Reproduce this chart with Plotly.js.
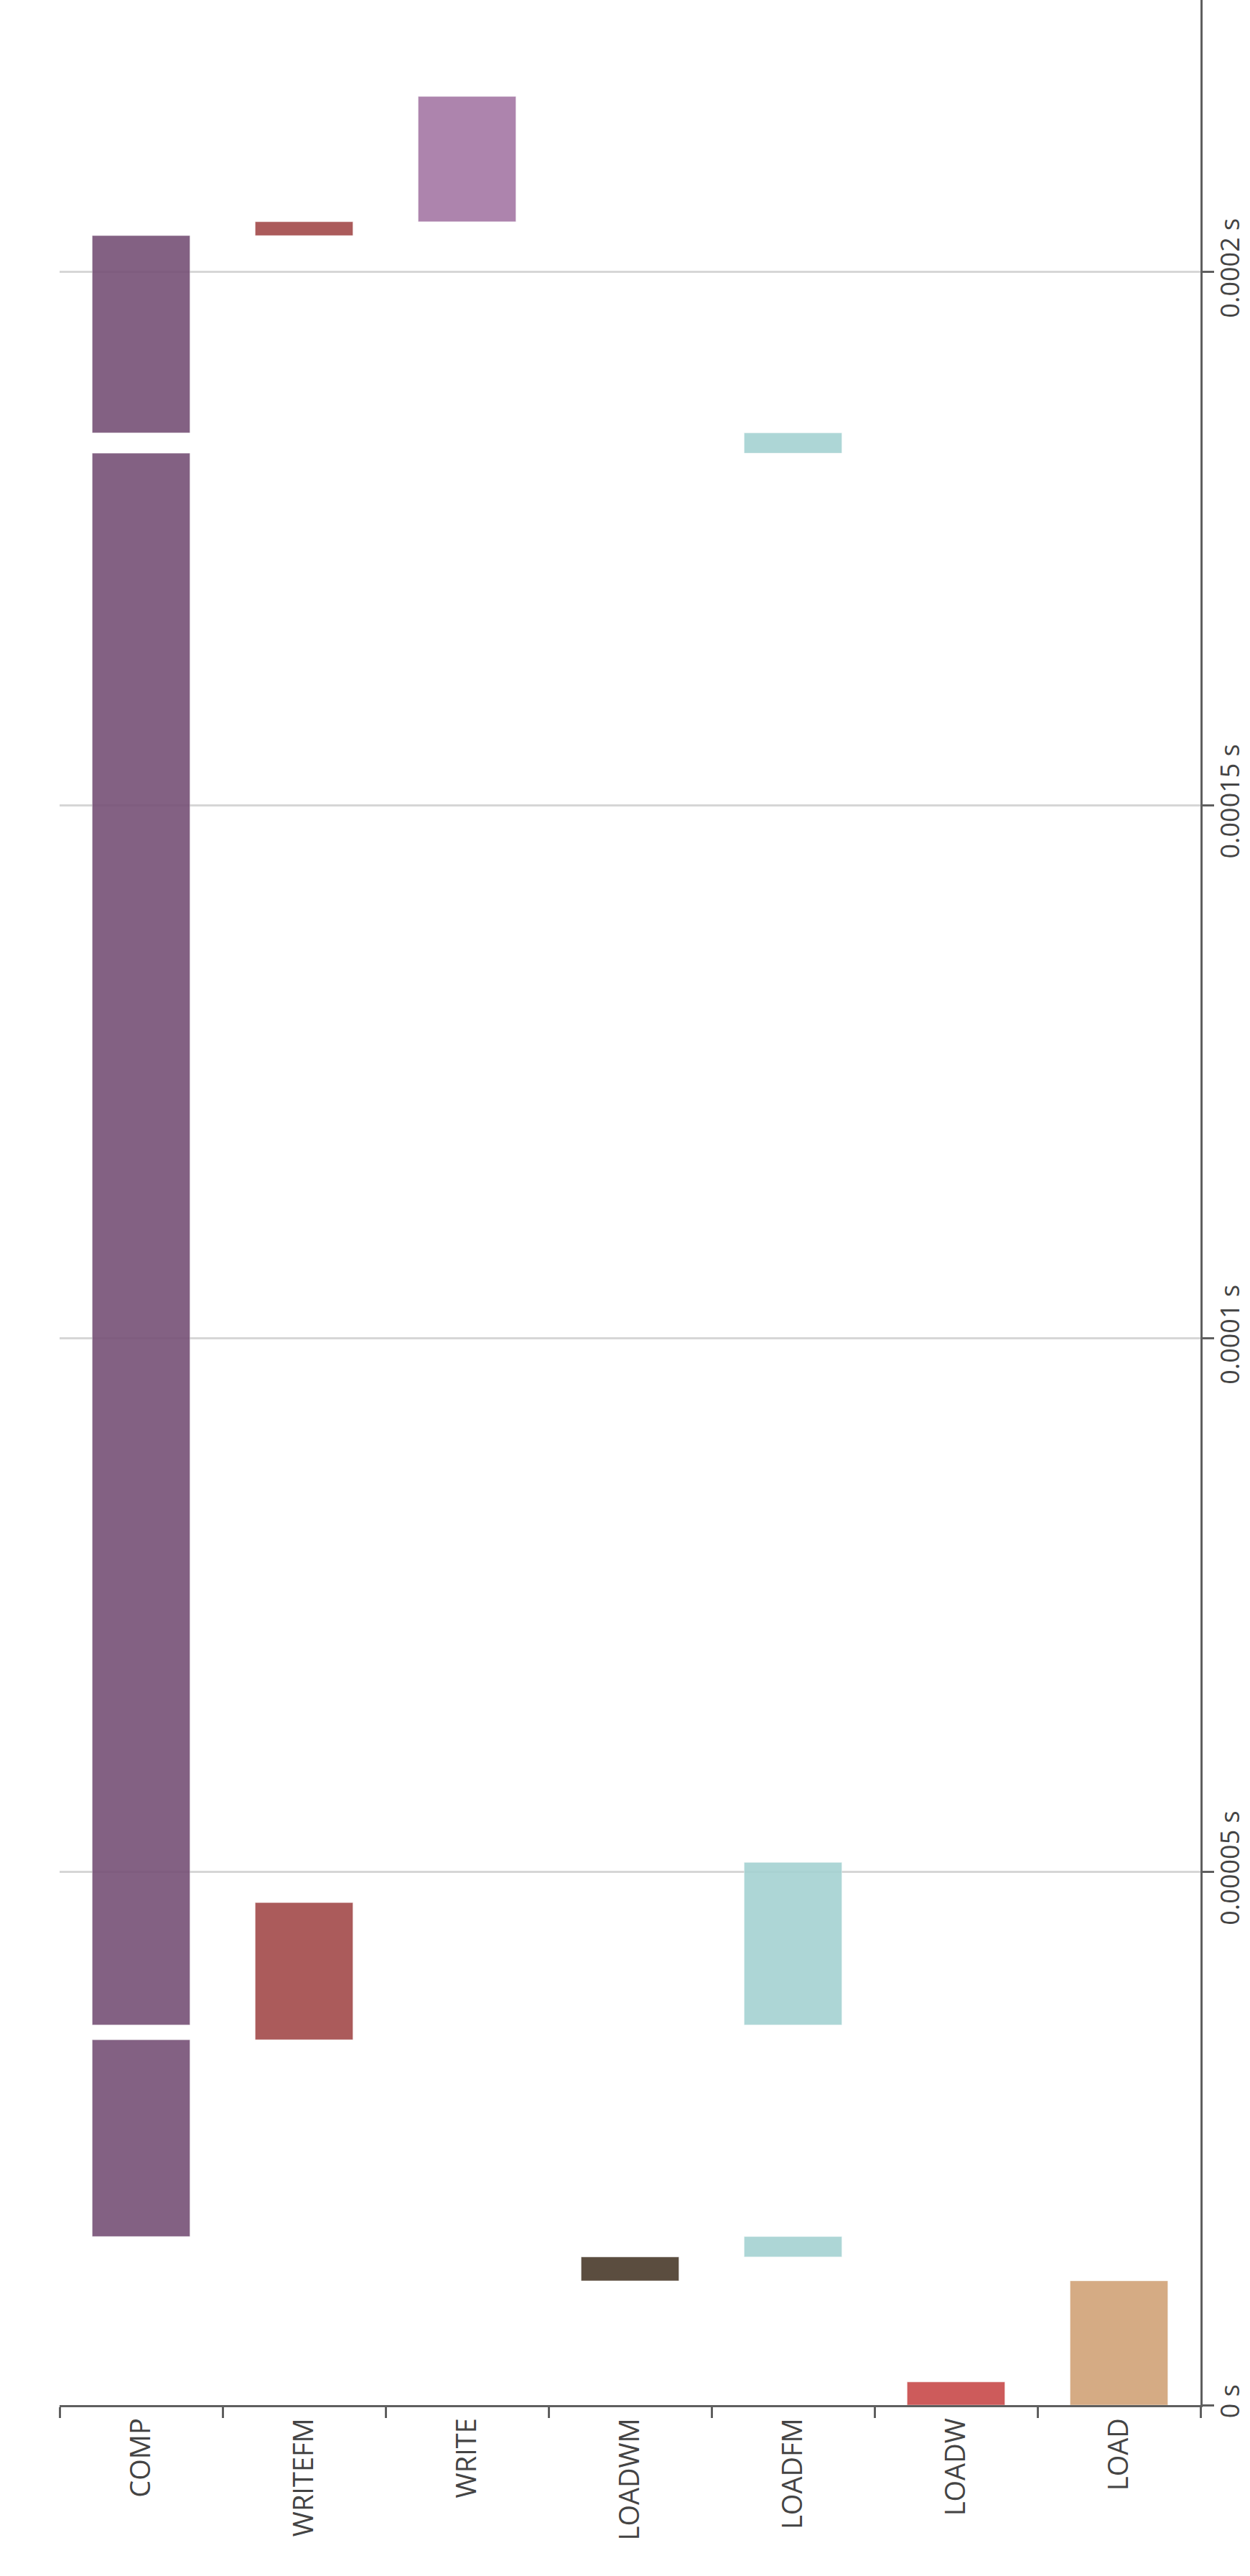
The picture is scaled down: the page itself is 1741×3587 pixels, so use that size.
<!DOCTYPE html>
<html>
<head>
<meta charset="utf-8">
<script src="https://cdn.plot.ly/plotly-3.0.1.min.js"></script>
<style>
  html, body { margin: 0; padding: 0; background: #fff; }
  #plot { width: 1741px; height: 3587px; }
</style>
</head>
<body>
<div id="plot"></div>
<script>
// lanes, left to right
const categories = ["COMP", "WRITEFM", "WRITE", "LOADWM", "LOADFM", "LOADW", "LOAD"];
const laneColors = ["#765076", "#a34a4a", "#a577a5", "#4a3a2b", "#a5d2d2", "#c84a4a", "#d1a377"];

// one entry per task, times in seconds
const taskLane = ["LOAD", "LOADW", "LOADWM", "LOADFM", "COMP", "WRITEFM", "LOADFM", "COMP", "LOADFM", "COMP", "WRITEFM", "WRITE"];
const taskStart = [0, 0, 1.165e-5, 1.389e-5, 1.580e-5, 3.425e-5, 3.564e-5, 3.564e-5, 1.830e-4, 1.849e-4, 2.034e-4, 2.047e-4];
const taskEnd = [1.165e-5, 2.17e-6, 1.389e-5, 1.580e-5, 3.425e-5, 4.711e-5, 5.088e-5, 1.830e-4, 1.849e-4, 2.034e-4, 2.047e-4, 2.1645e-4];

const timeTicks = [0, 0.00005, 0.0001, 0.00015, 0.0002];
const timeLabels = ["0 s", "0.00005 s", "0.0001 s", "0.00015 s", "0.0002 s"];

const axisColor = "#5f5f5f";

const traces = categories.map((lane, i) => {
  const idx = taskLane.map((name, j) => (name === lane ? j : -1)).filter((j) => j >= 0);
  return {
    type: "bar",
    name: lane,
    x: idx.map(() => lane),
    base: idx.map((j) => taskStart[j]),
    y: idx.map((j) => taskEnd[j] - taskStart[j]),
    width: 0.6,
    marker: {
      color: laneColors[i],
      opacity: 0.9,
      line: { color: "rgba(255,255,255,0.45)", width: 1 },
    },
    hovertemplate: lane + ": %{base} – %{y}<extra></extra>",
  };
});

const layout = {
  width: 1741,
  height: 3587,
  margin: { t: 0, r: 69, b: 238, l: 83 },
  paper_bgcolor: "#fff",
  plot_bgcolor: "#fff",
  font: { family: "Open Sans, sans-serif", size: 38, color: "#444" },
  showlegend: false,
  barmode: "overlay",
  xaxis: {
    type: "category",
    categoryorder: "array",
    categoryarray: categories,
    tickson: "boundaries",
    ticks: "outside",
    ticklen: 15,
    tickwidth: 3,
    tickcolor: axisColor,
    showline: true,
    linecolor: axisColor,
    linewidth: 3,
    showgrid: false,
    tickangle: -90,
  },
  yaxis: {
    side: "right",
    range: [0, 2.2549e-4],
    tickvals: timeTicks,
    ticktext: timeLabels,
    ticks: "outside",
    ticklen: 16,
    tickwidth: 3,
    tickcolor: axisColor,
    showline: true,
    linecolor: axisColor,
    linewidth: 3,
    showgrid: true,
    gridcolor: "#d6d6d6",
    gridwidth: 2.5,
    zeroline: false,
    tickangle: -90,
    tickfont: { size: 36 },
    ticklabelstandoff: -8,
  },
};

Plotly.newPlot("plot", traces, layout, { displayModeBar: false });
</script>
</body>
</html>
